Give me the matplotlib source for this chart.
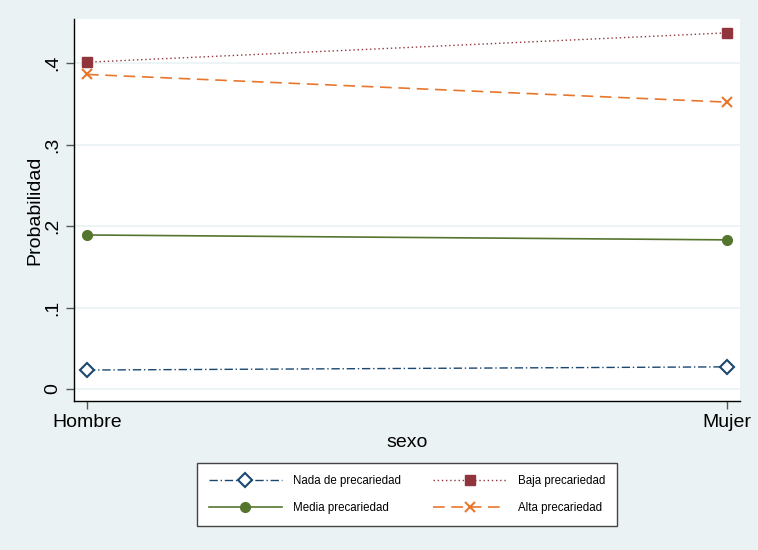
import matplotlib
matplotlib.use("Agg")
import matplotlib.pyplot as plt

plt.rcParams['font.family'] = ['Liberation Sans', 'DejaVu Sans']

# data
sexo = ['Hombre', 'Mujer']
nada = [0.0233, 0.0272]
baja = [0.401, 0.437]
media = [0.189, 0.183]
alta = [0.386, 0.352]
yticks = [0, 0.1, 0.2, 0.3, 0.4]
ytick_labels = ['0', '.1', '.2', '.3', '.4']

bg = '#eaf2f3'
fig = plt.figure(figsize=(7.58, 5.5), dpi=100, facecolor=bg)
ax = fig.add_axes([74 / 758, 149 / 550, 666 / 758, 382 / 550])
ax.set_facecolor('white')

x = range(len(sexo))
h1, = ax.plot(x, nada, color='#1a476f', linestyle=(0, (6, 2, 1, 2)), lw=1.0,
              marker='D', markersize=7, markerfacecolor='white', markeredgewidth=1.5,
              label='Nada de precariedad')
h2, = ax.plot(x, baja, color='#90353b', linestyle=(0, (1, 2)), lw=1.0,
              marker='s', markersize=7, label='Baja precariedad')
h3, = ax.plot(x, media, color='#55752f', linestyle='-', lw=1.2,
              marker='o', markersize=7, label='Media precariedad')
h4, = ax.plot(x, alta, color='#e8772e', linestyle=(0, (7, 4)), lw=1.2,
              marker='x', markersize=7, markeredgewidth=1.5, label='Alta precariedad')

ax.set_xlim(-0.0203, 1.0203)
ax.set_ylim(-0.0147, 0.454)
ax.set_xticks(list(x))
ax.set_xticklabels(sexo, fontsize=14)
ax.set_yticks(yticks)
ax.set_yticklabels(ytick_labels, fontsize=14, rotation=90, va='center')
ax.grid(axis='y', color=bg, lw=1.2)
ax.set_axisbelow(True)
ax.tick_params(axis='both', length=6, color='#555555', width=1)

for s in ['top', 'right']:
    ax.spines[s].set_visible(False)
for s in ['left', 'bottom']:
    ax.spines[s].set_color('black')
    ax.spines[s].set_linewidth(1)

ax.set_xlabel('sexo', fontsize=14, labelpad=2)
ax.set_ylabel('Probabilidad', fontsize=14, labelpad=0)

# matplotlib fills legend column by column
handles = [h1, h3, h2, h4]
leg = fig.legend(handles, [h.get_label() for h in handles], ncol=2, loc='center',
                 bbox_to_anchor=(407 / 758, 1 - 494.5 / 550),
                 fontsize=8.3, handlelength=6.3, columnspacing=2.8,
                 handletextpad=1.0, labelspacing=1.35, borderpad=1.0,
                 borderaxespad=0, fancybox=False, framealpha=1, edgecolor='#444444')
leg.get_frame().set_linewidth(1)

fig.savefig('out.png', dpi=100, facecolor=bg)
